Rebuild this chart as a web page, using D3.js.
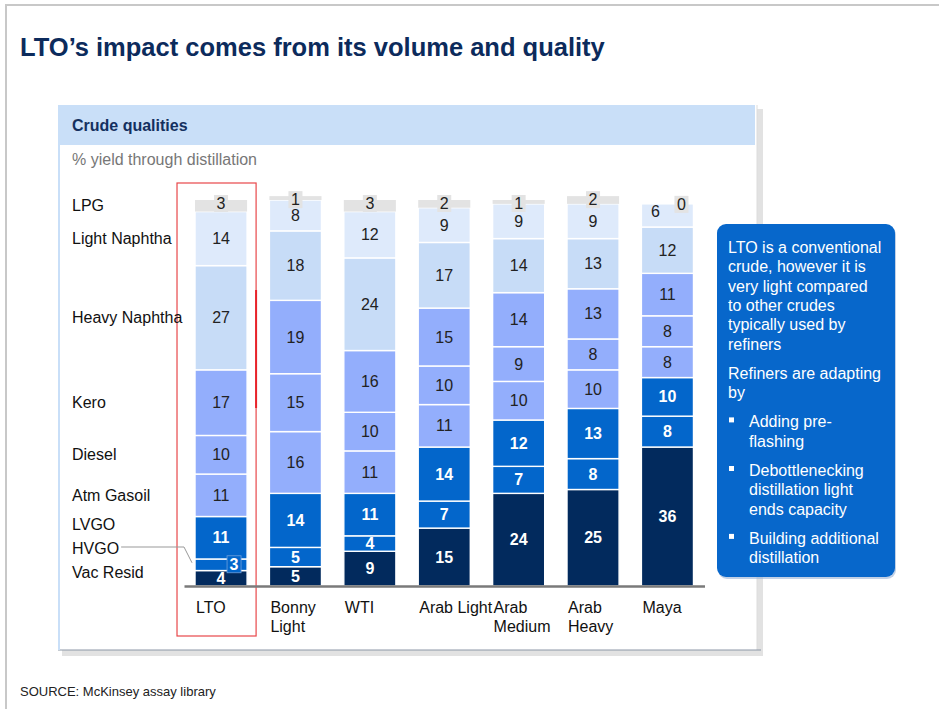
<!DOCTYPE html>
<html>
<head>
<meta charset="utf-8">
<script src="https://cdn.jsdelivr.net/npm/d3@7/dist/d3.min.js"></script>
<style>
  html, body { margin: 0; padding: 0; background: #fff; }
  svg { display: block; font-family: "Liberation Sans", Arial, sans-serif; }
</style>
</head>
<body>
<svg id="chart" width="939" height="709"></svg>
<script>
// ---------------- DATA ----------------
const categories = ["LTO", "Bonny Light", "WTI", "Arab Light", "Arab Medium", "Arab Heavy", "Maya"];
const categoryLabelLines = [["LTO"], ["Bonny", "Light"], ["WTI"], ["Arab Light"], ["Arab", "Medium"], ["Arab", "Heavy"], ["Maya"]];
const fractions = ["LPG", "Light Naphtha", "Heavy Naphtha", "Kero", "Diesel", "Atm Gasoil", "LVGO", "HVGO", "Vac Resid"];

const lpg          = [3, 1, 3, 2, 1, 2, 0];
const lightNaphtha = [14, 8, 12, 9, 9, 9, 6];
const heavyNaphtha = [27, 18, 24, 17, 14, 13, 12];
const kero         = [17, 19, 16, 15, 14, 13, 11];
const diesel       = [10, 15, 10, 10, 9, 8, 8];
const atmGasoil    = [11, 16, 11, 11, 10, 10, 8];
const lvgo         = [11, 14, 11, 14, 12, 13, 10];
const hvgo         = [3, 5, 4, 7, 7, 8, 8];
const vacResid     = [4, 5, 9, 15, 24, 25, 36];

const seriesValues = [lpg, lightNaphtha, heavyNaphtha, kero, diesel, atmGasoil, lvgo, hvgo, vacResid];

const titleText = "LTO\u2019s impact comes from its volume and quality";
const panelTitle = "Crude qualities";
const panelSubtitle = "% yield through distillation";
const sourceText = "SOURCE: McKinsey assay library";
const calloutParas = [
  { bullet: false, lines: ["LTO is a conventional", "crude, however it is", "very light compared", "to other crudes", "typically used by", "refiners"] },
  { bullet: false, lines: ["Refiners are adapting", "by"] },
  { bullet: true, lines: ["Adding pre-", "flashing"] },
  { bullet: true, lines: ["Debottlenecking", "distillation light", "ends capacity"] },
  { bullet: true, lines: ["Building additional", "distillation"] }
];

// ---------------- STYLE ----------------
const FS = 16;
const fillByFraction = {
  "LPG": "#e3e3e3",
  "Light Naphtha": "#deeafb",
  "Heavy Naphtha": "#c7dcf7",
  "Kero": "#93aefc",
  "Diesel": "#93aefc",
  "Atm Gasoil": "#93aefc",
  "LVGO": "#0366cb",
  "HVGO": "#0366cb",
  "Vac Resid": "#022a5d"
};
const darkFractions = new Set(["LVGO", "HVGO", "Vac Resid"]);

// build table
const table = categories.map((c, i) => {
  const row = { category: c };
  fractions.forEach((f, k) => row[f] = seriesValues[k][i]);
  return row;
});

const svg = d3.select("#chart");

// page frame
svg.append("line").attr("x1", 5).attr("x2", 939).attr("y1", 5).attr("y2", 5)
  .attr("stroke", "#c8c8c8").attr("stroke-width", 2);
svg.append("line").attr("x1", 6).attr("x2", 6).attr("y1", 5).attr("y2", 709)
  .attr("stroke", "#c8c8c8").attr("stroke-width", 2);

// title
svg.append("text").attr("x", 20).attr("y", 56)
  .attr("font-size", 25.5).attr("font-weight", "bold").attr("fill", "#0c2b5c")
  .text(titleText);

// panel
const panel = { x: 58, y: 105, w: 699, h: 545 };
svg.append("rect").attr("x", panel.x + 4).attr("y", panel.y + 4).attr("width", panel.w + 2).attr("height", panel.h + 2)
  .attr("fill", "#e2e2e2");
svg.append("rect").attr("x", panel.x).attr("y", panel.y).attr("width", panel.w).attr("height", panel.h)
  .attr("fill", "#fff");
svg.append("line").attr("x1", panel.x + panel.w).attr("x2", panel.x + panel.w).attr("y1", panel.y).attr("y2", panel.y + panel.h)
  .attr("stroke", "#dcdcdc").attr("stroke-width", 1);
svg.append("line").attr("x1", panel.x).attr("x2", panel.x + panel.w + 4).attr("y1", panel.y + panel.h).attr("y2", panel.y + panel.h)
  .attr("stroke", "#8c97a6").attr("stroke-width", 1);
svg.append("rect").attr("x", panel.x).attr("y", panel.y).attr("width", 2).attr("height", panel.h)
  .attr("fill", "#c9dff8");
svg.append("rect").attr("x", panel.x).attr("y", panel.y).attr("width", panel.w - 2).attr("height", 40)
  .attr("fill", "#c9dff8");
svg.append("text").attr("x", 72).attr("y", 131)
  .attr("font-size", FS).attr("font-weight", "bold").attr("fill", "#14305f")
  .text(panelTitle);
svg.append("text").attr("x", 72).attr("y", 165)
  .attr("font-size", FS).attr("fill", "#777")
  .text(panelSubtitle);

// scales
const x = d3.scaleBand().domain(categories).range([184, 704.5]).paddingInner(0.3).paddingOuter(0.148);
const y = d3.scaleLinear().domain([0, 100]).range([586, 200]);
const bw = x.bandwidth();

// stack: bottom = Vac Resid, top = LPG
const stackKeys = fractions.slice().reverse();
const stacked = d3.stack().keys(stackKeys)(table);

// red highlight box around LTO
const ltoX = x("LTO");
svg.append("rect").attr("x", ltoX - 18).attr("y", y(100) - 17)
  .attr("width", bw + 27).attr("height", 636 - (y(100) - 17))
  .attr("fill", "none").attr("stroke", "#e8474a").attr("stroke-width", 1.2);

// bars
const gBars = svg.append("g");
stacked.forEach(layer => {
  const key = layer.key;
  gBars.append("g").selectAll("rect").data(layer).join("rect")
    .attr("x", d => x(d.data.category))
    .attr("y", d => y(d[1]))
    .attr("width", bw)
    .attr("height", d => Math.max(0, y(d[0]) - y(d[1])))
    .attr("fill", fillByFraction[key])
    .attr("stroke", "#fff").attr("stroke-width", key === "LPG" ? 0 : 1.4);
});

// LTO box thick right line artifact
svg.append("line").attr("x1", ltoX + bw + 9).attr("x2", ltoX + bw + 9).attr("y1", 290).attr("y2", 408)
  .attr("stroke", "#e8232a").attr("stroke-width", 2);

// segment labels
const gLab = svg.append("g").attr("font-size", FS).attr("text-anchor", "middle");
stacked.forEach(layer => {
  const key = layer.key;
  layer.forEach(d => {
    const v = d.data[key];
    const cx = x(d.data.category) + bw / 2;
    const top = y(d[1]), bot = y(d[0]);
    const h = bot - top;
    const lpgZero = d.data["LPG"] === 0;
    if (key === "LPG") {
      const bx = lpgZero ? cx + 14 : cx;
      const by = lpgZero ? top - 8 : top - 5;
      gLab.append("rect").attr("x", bx - 7).attr("y", by).attr("width", 14).attr("height", 17).attr("fill", "#e3e3e3");
      gLab.append("text").attr("x", bx).attr("y", by + 14).attr("fill", "#222").text(v);
    } else if (darkFractions.has(key)) {
      if (h < 14) {
        gLab.append("rect").attr("x", cx + 6).attr("y", (top + bot) / 2 - 9).attr("width", 14).attr("height", 17)
          .attr("fill", "#0366cb").attr("stroke", "#6fa0dd").attr("stroke-width", 0.8);
        gLab.append("text").attr("x", cx + 13).attr("y", (top + bot) / 2).attr("dy", "0.35em")
          .attr("fill", "#fff").attr("font-weight", "bold").text(v);
      } else {
        gLab.append("text").attr("x", cx).attr("y", (top + bot) / 2).attr("dy", "0.35em")
          .attr("fill", "#fff").attr("font-weight", "bold").text(v);
      }
    } else {
      const lx = (key === "Light Naphtha" && lpgZero) ? cx - 12 : cx;
      const ly = (key === "Light Naphtha" && lpgZero) ? (top + bot) / 2 - 4 : (top + bot) / 2;
      gLab.append("text").attr("x", lx).attr("y", ly).attr("dy", "0.35em")
        .attr("fill", "#222").text(v);
    }
  });
});

// axis
const axis = d3.axisBottom(x).tickSize(0).tickFormat(() => "");
const gAxis = svg.append("g").attr("transform", `translate(0,${y(0)})`).call(axis);
gAxis.select(".domain").attr("stroke", "#7a7a7a").attr("stroke-width", 2.5);
gAxis.selectAll(".tick text").remove();
gAxis.selectAll(".tick").each(function (d, i) {
  const t = d3.select(this).append("text")
    .attr("x", -bw / 2 + 1).attr("y", 27)
    .attr("text-anchor", "start").attr("font-size", FS).attr("fill", "#111")
    .attr("font-family", "Liberation Sans, Arial, sans-serif");
  categoryLabelLines[i].forEach((ln, j) => {
    t.append("tspan").attr("x", -bw / 2 + 1).attr("dy", j === 0 ? 0 : 19).text(ln);
  });
});

// left fraction labels, aligned to LTO segments, relaxed from bottom
const centers = {};
stacked.forEach(layer => {
  const d = layer[0];
  centers[layer.key] = (y(d[0]) + y(d[1])) / 2;
});
const labelY = {};
let limit = y(0) - 14;
for (let k = fractions.length - 1; k >= 0; k--) {
  const f = fractions[k];
  const c = Math.min(centers[f], limit);
  labelY[f] = c;
  limit = c - 24;
}
const gLeft = svg.append("g").attr("font-size", FS).attr("fill", "#111");
fractions.forEach(f => {
  const t = gLeft.append("text").attr("x", 72).attr("y", labelY[f] + 5.5).text(f);
  if (f === "HVGO") {
    const w = t.node().getComputedTextLength();
    const ly = labelY[f] - 1;
    svg.append("polyline")
      .attr("points", `${72 + w + 2},${ly} ${ltoX - 11},${ly} ${ltoX - 3},${centers["HVGO"] - 2}`)
      .attr("fill", "none").attr("stroke", "#999").attr("stroke-width", 1);
  }
});

// callout box
const cb = { x: 717, y: 224, w: 178, h: 353 };
svg.append("rect").attr("x", cb.x + 1).attr("y", cb.y + 2).attr("width", cb.w).attr("height", cb.h).attr("rx", 9)
  .attr("fill", "#9ab3d6").attr("opacity", 0.6);
svg.append("rect").attr("x", cb.x).attr("y", cb.y).attr("width", cb.w).attr("height", cb.h).attr("rx", 9)
  .attr("fill", "#0767cb");
const gC = svg.append("g").attr("font-size", FS).attr("fill", "#fff");
let by = 253;
calloutParas.forEach((p, pi) => {
  if (pi > 0) by += 10;
  p.lines.forEach((ln, li) => {
    const tx = p.bullet ? 749 : 728;
    gC.append("text").attr("x", tx).attr("y", by).text(ln);
    if (p.bullet && li === 0) {
      gC.append("rect").attr("x", 729).attr("y", by - 10).attr("width", 5).attr("height", 5).attr("fill", "#fff");
    }
    by += 19.3;
  });
});

// source
svg.append("text").attr("x", 20).attr("y", 696).attr("font-size", 13).attr("fill", "#222").text(sourceText);
</script>
</body>
</html>
